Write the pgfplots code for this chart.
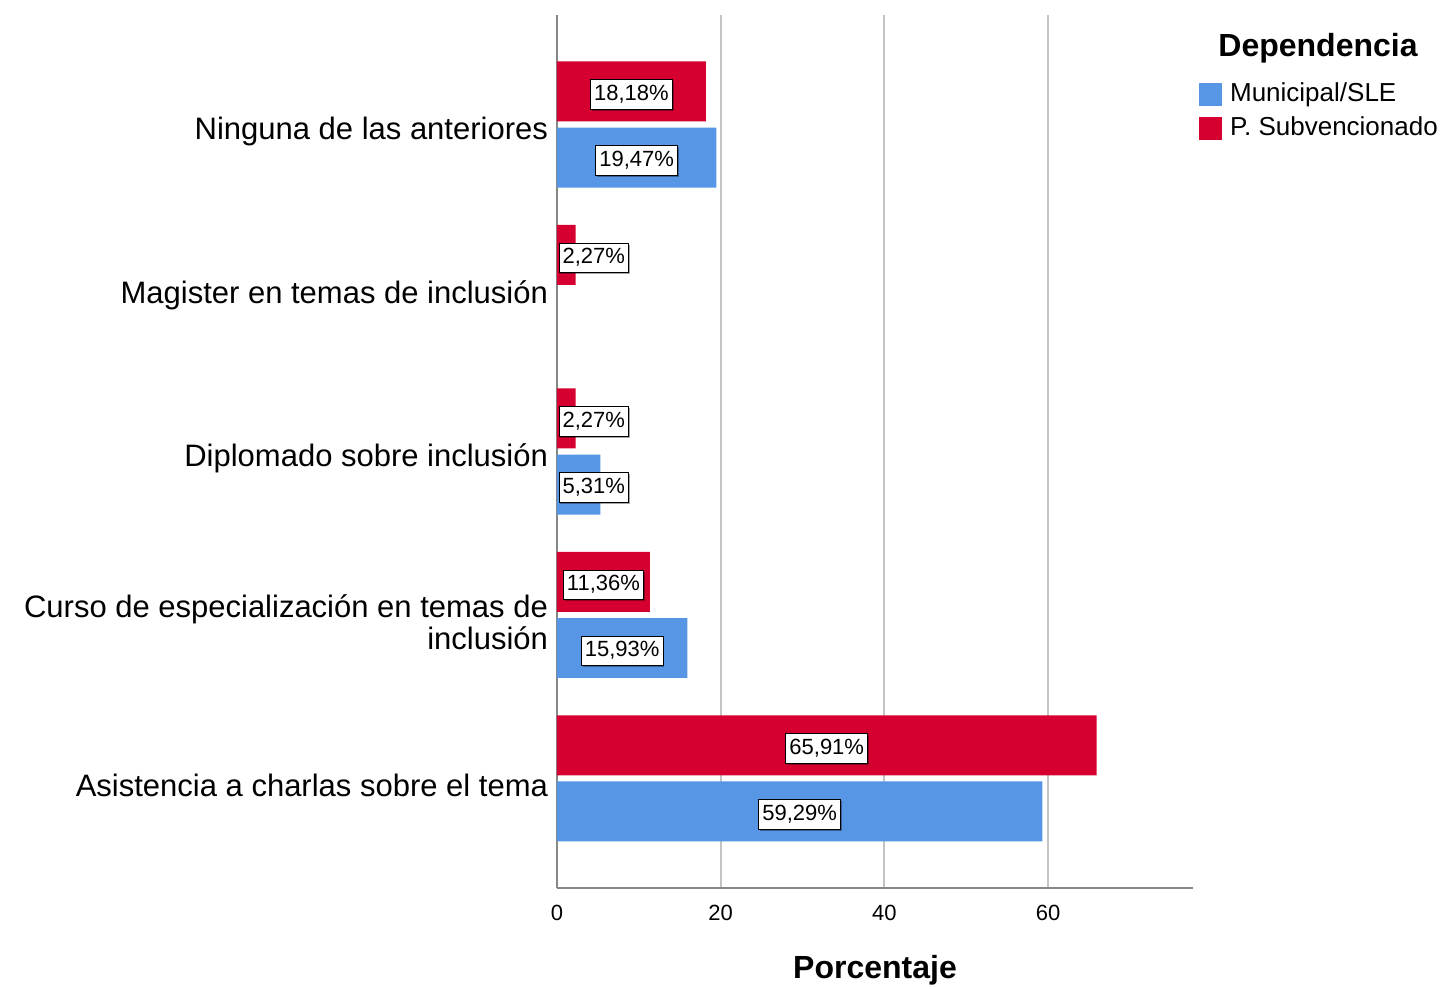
\documentclass[border=0pt]{standalone}
\usepackage{fontspec}
\setmainfont{Liberation Sans}
\usepackage{pgfplots}
\pgfplotsset{compat=1.18}
\usepackage{pgfplotstable}
\usetikzlibrary{shadows}

\definecolor{muniblue}{RGB}{86,150,228}
\definecolor{subred}{RGB}{214,0,48}
\definecolor{axisgray}{RGB}{135,135,135}
\definecolor{gridgray}{RGB}{196,196,196}

% y: 0 = Asistencia ... 4 = Ninguna
\pgfplotstableread{
y v
0 59.29
1 15.93
2 5.31
4 19.47
}\municipal
\pgfplotstableread{
y v
0 65.91
1 11.36
2 2.27
3 2.27
4 18.18
}\subvenc

\pgfplotsset{
  pctlabel/.style={
    draw=none, forget plot,
    point meta=\thisrow{v},
    nodes near coords={\pgfmathprintnumber[use comma,fixed,fixed zerofill,precision=2]{\pgfplotspointmeta}\%},
    every node near coord/.append style={anchor=center, draw=black, line width=0.5pt,
      fill=white, inner sep=1.8pt, text height=8.5pt, text depth=2.6pt,
      font=\fontsize{11}{13}\selectfont, yshift=-1.5pt,
      drop shadow={shadow xshift=0.7pt, shadow yshift=-0.7pt, fill=black, opacity=0.35}},
  },
}

\begin{document}
\begin{tikzpicture}
\useasboundingbox (-278.5pt,-50.5pt) rectangle (441.5pt,444pt);
\begin{axis}[
  at={(0pt,0pt)}, anchor=south west,
  scale only axis,
  width=318pt, height=436.5pt,
  xmin=0, xmax=77.7,
  ymin=-0.67, ymax=4.67,
  axis x line=bottom, axis y line=left,
  axis line style={-, draw=axisgray, line width=1.1pt},
  xtick={0,20,40,60},
  ytick={0,1,2,3,4},
  yticklabels={Asistencia a charlas sobre el tema,{Curso de especialización en temas de\\inclusión},Diplomado sobre inclusión,Magister en temas de inclusión,Ninguna de las anteriores},
  major tick length=0pt,
  xmajorgrids,
  grid style={draw=gridgray, line width=1pt},
  /pgf/number format/assume math mode=true,
  xticklabel style={font=\fontsize{11}{13}\selectfont, anchor=center, yshift=-12.5pt},
  yticklabel style={font=\fontsize{15.5}{16}\selectfont, align=right, yshift=-3.5pt, xshift=-1pt},
  xlabel={Porcentaje},
  xlabel style={font=\bfseries\fontsize{16}{18}\selectfont, at={(axis description cs:0.5,0)}, anchor=center, yshift=-41pt},
  legend style={at={(rel axis cs:1.009,0.927)}, anchor=north west, draw=none, fill=none,
    inner sep=0pt, font=\fontsize{13}{15}\selectfont, cells={anchor=west}, row sep=2pt,
    nodes={inner sep=1.5pt, text height=9.5pt, text depth=2.5pt}},
]
\addplot[xbar, bar width=0.367, bar shift=-0.202, fill=muniblue, draw=none,
  legend image code/.code={\fill[muniblue] (0pt,-5.75pt) rectangle (11.5pt,5.75pt); \path (14pt,0pt);}]
  table[x=v, y=y] {\municipal};
\addlegendentry{Municipal/SLE}
\addplot[xbar, bar width=0.367, bar shift=0.202, fill=subred, draw=none,
  legend image code/.code={\fill[subred] (0pt,-5.75pt) rectangle (11.5pt,5.75pt); \path (14pt,0pt);}]
  table[x=v, y=y] {\subvenc};
\addlegendentry{P. Subvencionado}

\addplot[pctlabel] table[x expr={max(\thisrow{v}/2,4.5)}, y expr={\thisrow{y}-0.202}] {\municipal};
\addplot[pctlabel] table[x expr={max(\thisrow{v}/2,4.5)}, y expr={\thisrow{y}+0.202}] {\subvenc};
\end{axis}
\node[font=\bfseries\fontsize{16}{18}\selectfont] at (380.5pt,420pt) {Dependencia};
\end{tikzpicture}
\end{document}
